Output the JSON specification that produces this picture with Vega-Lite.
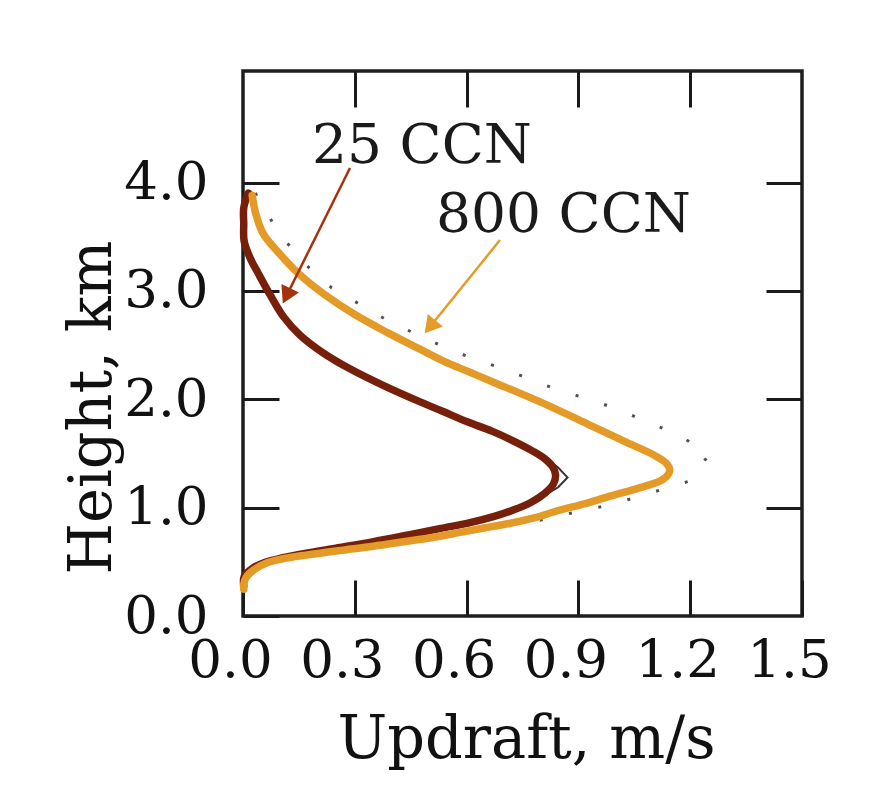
{
  "$schema": "https://vega.github.io/schema/vega-lite/v6.json",
  "width": 559,
  "height": 545,
  "autosize": {"type": "none"},
  "padding": {"left": 243, "top": 71, "right": 82, "bottom": 182},
  "background": "white",
  "config": {
    "view": {"stroke": "#1e1e1e", "strokeWidth": 3.5},
    "axis": {
      "domain": false,
      "grid": false,
      "tickSize": -36,
      "tickWidth": 3,
      "tickColor": "#1a1a1a",
      "labelFont": "DejaVu Serif",
      "labelFontSize": 53,
      "labelColor": "#111111",
      "labelFlush": false,
      "labelOverlap": false,
      "labelBound": false,
      "titleFont": "DejaVu Serif",
      "titleFontSize": 59,
      "titleFontWeight": "normal",
      "titleColor": "#111111"
    }
  },
  "datasets": {
    "dotted": [
      {"i": 0, "x": 0.0328, "y": 3.903}, {"i": 1, "x": 0.0532, "y": 3.782}, {"i": 2, "x": 0.0992, "y": 3.52},
      {"i": 3, "x": 0.1665, "y": 3.249}, {"i": 4, "x": 0.237, "y": 3.032}, {"i": 5, "x": 0.3161, "y": 2.871},
      {"i": 6, "x": 0.3926, "y": 2.719}, {"i": 7, "x": 0.4693, "y": 2.594}, {"i": 8, "x": 0.5487, "y": 2.47},
      {"i": 9, "x": 0.6256, "y": 2.364}, {"i": 10, "x": 0.7053, "y": 2.276}, {"i": 11, "x": 0.7795, "y": 2.17},
      {"i": 12, "x": 0.8565, "y": 2.074}, {"i": 13, "x": 0.9337, "y": 1.996}, {"i": 14, "x": 1.0106, "y": 1.9},
      {"i": 15, "x": 1.0901, "y": 1.784}, {"i": 16, "x": 1.1776, "y": 1.658}, {"i": 17, "x": 1.2484, "y": 1.479},
      {"i": 18, "x": 1.1953, "y": 1.242}, {"i": 19, "x": 1.1194, "y": 1.163}, {"i": 20, "x": 1.0435, "y": 1.084},
      {"i": 21, "x": 0.957, "y": 1.006}, {"i": 22, "x": 0.8758, "y": 0.946}, {"i": 23, "x": 0.8001, "y": 0.886},
      {"i": 24, "x": 0.7139, "y": 0.854}, {"i": 25, "x": 0.6464, "y": 0.812}, {"i": 26, "x": 0.5789, "y": 0.769},
      {"i": 27, "x": 0.5114, "y": 0.727}, {"i": 28, "x": 0.4304, "y": 0.685}, {"i": 29, "x": 0.3495, "y": 0.644},
      {"i": 30, "x": 0.2552, "y": 0.603}, {"i": 31, "x": 0.1689, "y": 0.562}, {"i": 32, "x": 0.1068, "y": 0.528},
      {"i": 33, "x": 0.0663, "y": 0.494}, {"i": 34, "x": 0.0308, "y": 0.43}, {"i": 35, "x": 0.0086, "y": 0.358},
      {"i": 36, "x": 0.002, "y": 0.294}
    ],
    "orig": [
      {"i": 0, "x": 0.8081, "y": 1.467}, {"i": 1, "x": 0.8448, "y": 1.372}, {"i": 2, "x": 0.8708, "y": 1.279},
      {"i": 3, "x": 0.8458, "y": 1.188}, {"i": 4, "x": 0.8102, "y": 1.116}
    ],
    "ccn25": [
      {"i": 0, "x": 0.0141, "y": 3.904}, {"i": 1, "x": 0.002, "y": 3.766}, {"i": 2, "x": 0.002, "y": 3.619},
      {"i": 3, "x": 0.003, "y": 3.461}, {"i": 4, "x": 0.0193, "y": 3.303}, {"i": 5, "x": 0.0422, "y": 3.154},
      {"i": 6, "x": 0.0752, "y": 2.949}, {"i": 7, "x": 0.1084, "y": 2.763}, {"i": 8, "x": 0.1525, "y": 2.594},
      {"i": 9, "x": 0.2128, "y": 2.434}, {"i": 10, "x": 0.2919, "y": 2.272}, {"i": 11, "x": 0.3818, "y": 2.119},
      {"i": 12, "x": 0.4691, "y": 1.985}, {"i": 13, "x": 0.5354, "y": 1.889}, {"i": 14, "x": 0.6016, "y": 1.792},
      {"i": 15, "x": 0.668, "y": 1.706}, {"i": 16, "x": 0.7288, "y": 1.61}, {"i": 17, "x": 0.7764, "y": 1.524},
      {"i": 18, "x": 0.8106, "y": 1.449}, {"i": 19, "x": 0.8314, "y": 1.374}, {"i": 20, "x": 0.8388, "y": 1.299},
      {"i": 21, "x": 0.8326, "y": 1.216}, {"i": 22, "x": 0.8104, "y": 1.135}, {"i": 23, "x": 0.7748, "y": 1.053},
      {"i": 24, "x": 0.7285, "y": 0.982}, {"i": 25, "x": 0.6742, "y": 0.92}, {"i": 26, "x": 0.6066, "y": 0.86},
      {"i": 27, "x": 0.5309, "y": 0.809}, {"i": 28, "x": 0.4445, "y": 0.749}, {"i": 29, "x": 0.35, "y": 0.686},
      {"i": 30, "x": 0.2555, "y": 0.63}, {"i": 31, "x": 0.1691, "y": 0.58}, {"i": 32, "x": 0.1069, "y": 0.538},
      {"i": 33, "x": 0.0582, "y": 0.494}, {"i": 34, "x": 0.0255, "y": 0.44}, {"i": 35, "x": 0.0034, "y": 0.367},
      {"i": 36, "x": 0.002, "y": 0.276}
    ],
    "ccn800": [
      {"i": 0, "x": 0.0246, "y": 3.882}, {"i": 1, "x": 0.0339, "y": 3.718}, {"i": 2, "x": 0.0537, "y": 3.532},
      {"i": 3, "x": 0.0976, "y": 3.345}, {"i": 4, "x": 0.1496, "y": 3.158}, {"i": 5, "x": 0.2177, "y": 2.969},
      {"i": 6, "x": 0.2966, "y": 2.789}, {"i": 7, "x": 0.3863, "y": 2.618}, {"i": 8, "x": 0.4735, "y": 2.465},
      {"i": 9, "x": 0.5396, "y": 2.35}, {"i": 10, "x": 0.6058, "y": 2.254}, {"i": 11, "x": 0.672, "y": 2.158},
      {"i": 12, "x": 0.7913, "y": 1.985}, {"i": 13, "x": 0.9236, "y": 1.774}, {"i": 14, "x": 1.0294, "y": 1.602},
      {"i": 15, "x": 1.1009, "y": 1.488}, {"i": 16, "x": 1.1351, "y": 1.412}, {"i": 17, "x": 1.1452, "y": 1.346},
      {"i": 18, "x": 1.1284, "y": 1.264}, {"i": 19, "x": 1.0659, "y": 1.185}, {"i": 20, "x": 0.9846, "y": 1.106},
      {"i": 21, "x": 0.9169, "y": 1.036}, {"i": 22, "x": 0.8491, "y": 0.976}, {"i": 23, "x": 0.7815, "y": 0.905},
      {"i": 24, "x": 0.7139, "y": 0.854}, {"i": 25, "x": 0.6464, "y": 0.812}, {"i": 26, "x": 0.5789, "y": 0.769},
      {"i": 27, "x": 0.5114, "y": 0.727}, {"i": 28, "x": 0.4304, "y": 0.685}, {"i": 29, "x": 0.3495, "y": 0.644},
      {"i": 30, "x": 0.2552, "y": 0.603}, {"i": 31, "x": 0.1689, "y": 0.562}, {"i": 32, "x": 0.1068, "y": 0.528},
      {"i": 33, "x": 0.0663, "y": 0.494}, {"i": 34, "x": 0.0308, "y": 0.43}, {"i": 35, "x": 0.0086, "y": 0.358},
      {"i": 36, "x": 0.002, "y": 0.294}, {"i": 37, "x": 0.002, "y": 0.248}
    ],
    "arrows": [
      {"label": "25 CCN", "x": 0.2871, "y": 4.135, "x2": 0.1167, "y2": 2.955},
      {"label": "800 CCN", "x": 0.6896, "y": 3.47, "x2": 0.5018, "y2": 2.669}
    ],
    "labels": [
      {"label": "25 CCN", "x": 0.4803, "y": 4.181},
      {"label": "800 CCN", "x": 0.86, "y": 3.544}
    ]
  },
  "resolve": {"axis": {"x": "independent", "y": "independent"}},
  "layer": [
    {
      "data": {"name": "dotted"},
      "mark": {"type": "line", "color": "#505050", "strokeWidth": 3, "strokeDash": [3, 27], "interpolate": "linear"},
      "encoding": {
        "x": {"field": "x", "type": "quantitative", "scale": {"domain": [0, 1.5], "nice": false},
          "axis": {"orient": "bottom", "values": [0, 0.3, 0.6, 0.9, 1.2, 1.5], "format": ".1f", "labelPadding": 54, "labelOffset": -13,
            "title": "Updraft, m/s", "titleX": 283, "titleY": 141, "titleAlign": "center", "titleBaseline": "alphabetic"}},
        "y": {"field": "y", "type": "quantitative", "scale": {"domain": [0, 5.03], "nice": false},
          "axis": {"orient": "left", "values": [0, 1, 2, 3, 4], "format": ".1f", "labelPadding": 71,
            "title": "Height, km", "titleAngle": -90, "titleX": -133, "titleY": 336, "titleAlign": "center", "titleBaseline": "alphabetic"}},
        "order": {"field": "i", "type": "quantitative"}
      }
    },
    {
      "data": {"name": "orig"},
      "mark": {"type": "line", "color": "#333333", "strokeWidth": 2, "interpolate": "linear"},
      "encoding": {
        "x": {"field": "x", "type": "quantitative", "scale": {"domain": [0, 1.5], "nice": false},
          "axis": {"orient": "top", "values": [0.3, 0.6, 0.9, 1.2], "labels": false, "title": null}},
        "y": {"field": "y", "type": "quantitative", "scale": {"domain": [0, 5.03], "nice": false},
          "axis": {"orient": "right", "values": [1, 2, 3, 4], "labels": false, "title": null}},
        "order": {"field": "i", "type": "quantitative"}
      }
    },
    {
      "data": {"name": "ccn25"},
      "mark": {"type": "line", "color": "#76200b", "strokeWidth": 7.5, "strokeCap": "round", "interpolate": "catmull-rom"},
      "encoding": {
        "x": {"field": "x", "type": "quantitative", "axis": null},
        "y": {"field": "y", "type": "quantitative", "axis": null},
        "order": {"field": "i", "type": "quantitative"}
      }
    },
    {
      "data": {"name": "ccn800"},
      "mark": {"type": "line", "color": "#e39a26", "strokeWidth": 7.5, "strokeCap": "round", "interpolate": "catmull-rom"},
      "encoding": {
        "x": {"field": "x", "type": "quantitative", "axis": null},
        "y": {"field": "y", "type": "quantitative", "axis": null},
        "order": {"field": "i", "type": "quantitative"}
      }
    },
    {
      "data": {"name": "arrows"},
      "transform": [{"filter": "datum.label === '25 CCN'"}],
      "mark": {"type": "rule", "color": "#a3330f", "strokeWidth": 2.5},
      "encoding": {
        "x": {"field": "x", "type": "quantitative", "axis": null},
        "y": {"field": "y", "type": "quantitative", "axis": null},
        "x2": {"field": "x2"},
        "y2": {"field": "y2"}
      }
    },
    {
      "data": {"name": "arrows"},
      "transform": [{"filter": "datum.label === '800 CCN'"}],
      "mark": {"type": "rule", "color": "#e59b2a", "strokeWidth": 2.5},
      "encoding": {
        "x": {"field": "x", "type": "quantitative", "axis": null},
        "y": {"field": "y", "type": "quantitative", "axis": null},
        "x2": {"field": "x2"},
        "y2": {"field": "y2"}
      }
    },
    {
      "data": {"name": "arrows"},
      "transform": [{"filter": "datum.label === '25 CCN'"}],
      "mark": {"type": "point", "shape": "triangle-up", "filled": true, "color": "#a3330f", "size": 380, "angle": 206, "opacity": 1},
      "encoding": {
        "x": {"field": "x2", "type": "quantitative", "axis": null},
        "y": {"field": "y2", "type": "quantitative", "axis": null}
      }
    },
    {
      "data": {"name": "arrows"},
      "transform": [{"filter": "datum.label === '800 CCN'"}],
      "mark": {"type": "point", "shape": "triangle-up", "filled": true, "color": "#e59b2a", "size": 380, "angle": 219, "opacity": 1},
      "encoding": {
        "x": {"field": "x2", "type": "quantitative", "axis": null},
        "y": {"field": "y2", "type": "quantitative", "axis": null}
      }
    },
    {
      "data": {"name": "labels"},
      "mark": {"type": "text", "font": "DejaVu Serif", "fontSize": 55, "color": "#1a1a1a", "align": "center", "baseline": "alphabetic"},
      "encoding": {
        "x": {"field": "x", "type": "quantitative", "axis": null},
        "y": {"field": "y", "type": "quantitative", "axis": null},
        "text": {"field": "label"}
      }
    }
  ]
}
